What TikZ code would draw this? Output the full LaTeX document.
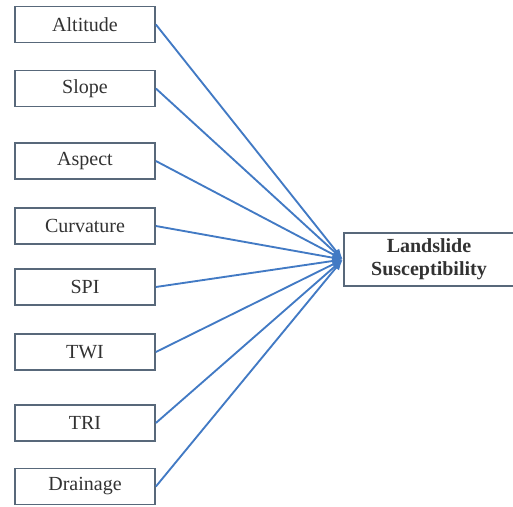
\documentclass[tikz,border=0pt]{standalone}
\usepackage{fontspec}
\setmainfont{Liberation Serif}
\usetikzlibrary{arrows.meta, positioning}
\definecolor{boxgray}{RGB}{88, 104, 122}
\definecolor{linkblue}{RGB}{66, 122, 196}
\definecolor{textgray}{RGB}{50, 50, 50}

\begin{document}
\begin{tikzpicture}[x=0.75pt, y=-0.75pt,
  factor/.style={draw=boxgray, line width=1.3pt, minimum width=105pt, minimum height=27pt,
    inner sep=0pt, text=textgray, font=\fontsize{15}{17}\selectfont},
  result/.style={draw=boxgray, line width=1.3pt, minimum width=128pt, minimum height=40pt,
    inner sep=0pt, align=center, text=textgray, font=\fontsize{15}{17.5}\selectfont\bfseries},
  link/.style={draw=linkblue, line width=1.4pt, -{Latex[length=8pt, width=6pt]}}]
  \useasboundingbox (0,0) rectangle (513,506);

  \node[factor] (alt) at (85,24.5) {Altitude};
  \node[factor] (slope) at (85,88.5) {Slope};
  \node[factor] (asp) at (85,161) {Aspect};
  \node[factor] (curv) at (85,226) {Curvature};
  \node[factor] (spi) at (85,287) {SPI};
  \node[factor] (twi) at (85,352) {TWI};
  \node[factor] (tri) at (85,423) {TRI};
  \node[factor] (drain) at (85,486.5) {Drainage};

  \node[result] (ls) at (429,259.5) {Landslide\\Susceptibility};

  \foreach \f in {alt, slope, asp, curv, spi, twi, tri, drain}
    \draw[link] (\f.east) -- (ls.west);
\end{tikzpicture}
\end{document}
